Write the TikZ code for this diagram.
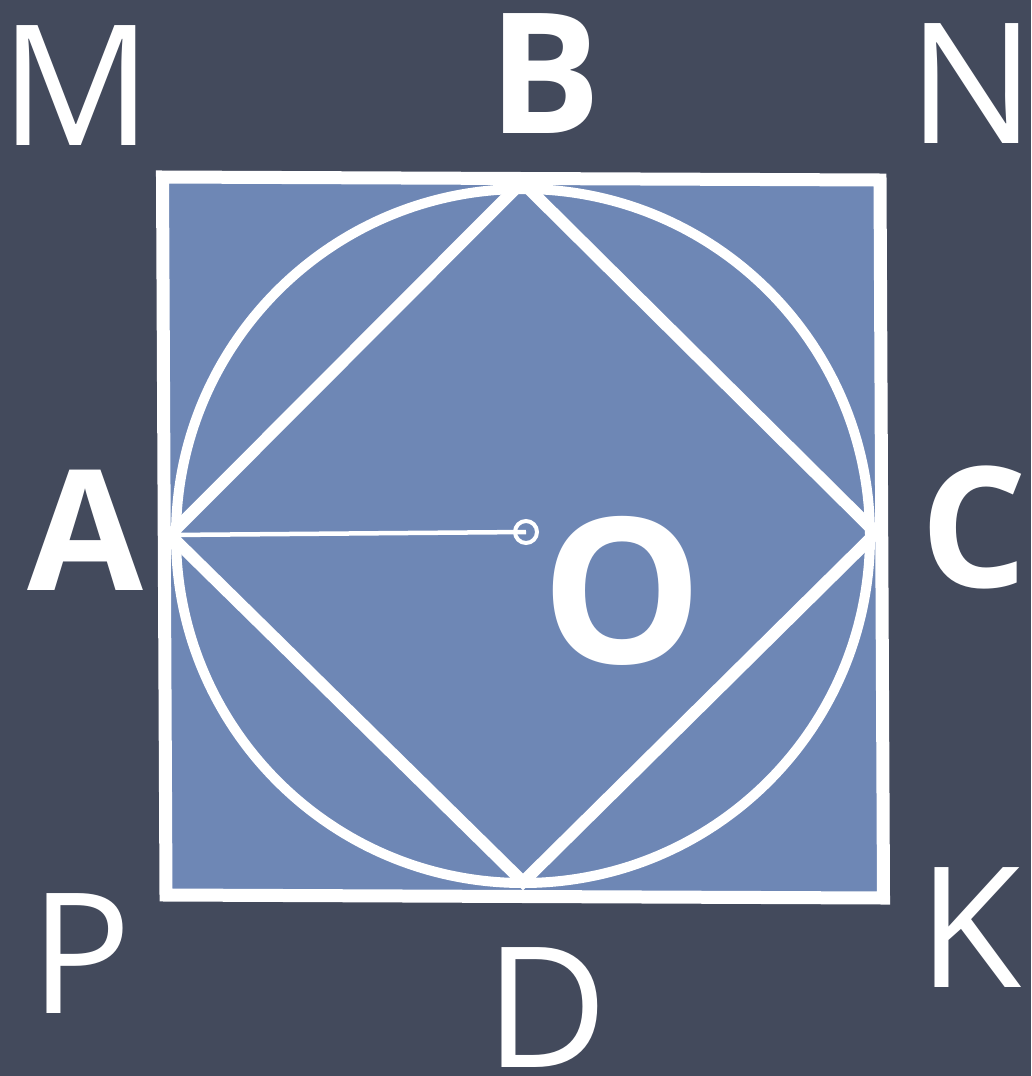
\documentclass[tikz,border=0pt]{standalone}
\usepackage{fontspec}
\setmainfont{Open Sans}
\definecolor{board}{HTML}{434A5C}
\definecolor{sqfill}{HTML}{6E87B5}
\begin{document}
\begin{tikzpicture}[x=1pt,y=-1pt,
  lbl/.style={text=white, inner sep=0pt, anchor=base west, font=\fontsize{168}{168}\selectfont},
  lblb/.style={lbl, font=\fontsize{168}{168}\selectfont\bfseries},
  edge/.style={draw=white, line width=13pt, line join=miter},
  ring/.style={draw=white, line width=10pt},
  thin/.style={draw=white, line width=4.5pt}]
\fill[board] (0,0) rectangle (1031,1076);
\useasboundingbox (0,0) rectangle (1031,1076);
% square corners
\coordinate (SQ1) at (162.5,177);
\coordinate (SQ2) at (880,180);
\coordinate (SQ3) at (883.5,898);
\coordinate (SQ4) at (166,895);
\fill[sqfill] (SQ1) -- (SQ2) -- (SQ3) -- (SQ4) -- cycle;
% diamond vertices
\coordinate (A) at (170,535);
\coordinate (B) at (522,182);
\coordinate (C) at (876,533);
\coordinate (D) at (523,882);
\coordinate (Oc) at (523,536);
\draw[ring] (Oc) circle (347pt);
\draw[edge, line width=12pt] (B) -- (C) -- (D) -- (A) -- cycle;
\draw[edge] (SQ1) -- (SQ2) -- (SQ3) -- (SQ4) -- cycle;
% radius and centre mark
\node[circle, draw=white, line width=4pt, minimum size=22pt, inner sep=0pt] (ctr) at (526,532) {};
\draw[thin] (A) -- (ctr.center);
% labels
\node[lbl] (lM) at (0.5,145) {M};
\node[lblb] (lB) at (488,133) {B};
\node[lbl] (lN) at (908,143) {N};
\node[lblb] (lA) at (27,590) {A};
\node[lblb] (lC) at (920,587) {C};
\node[lbl, font=\fontsize{203}{203}\selectfont\bfseries] (lO) at (541.5,663) {O};
\node[lbl] (lP) at (30.5,1013) {P};
\node[lbl] (lD) at (485.5,1067) {D};
\node[lbl] (lK) at (918,987) {K};
\end{tikzpicture}
\end{document}
